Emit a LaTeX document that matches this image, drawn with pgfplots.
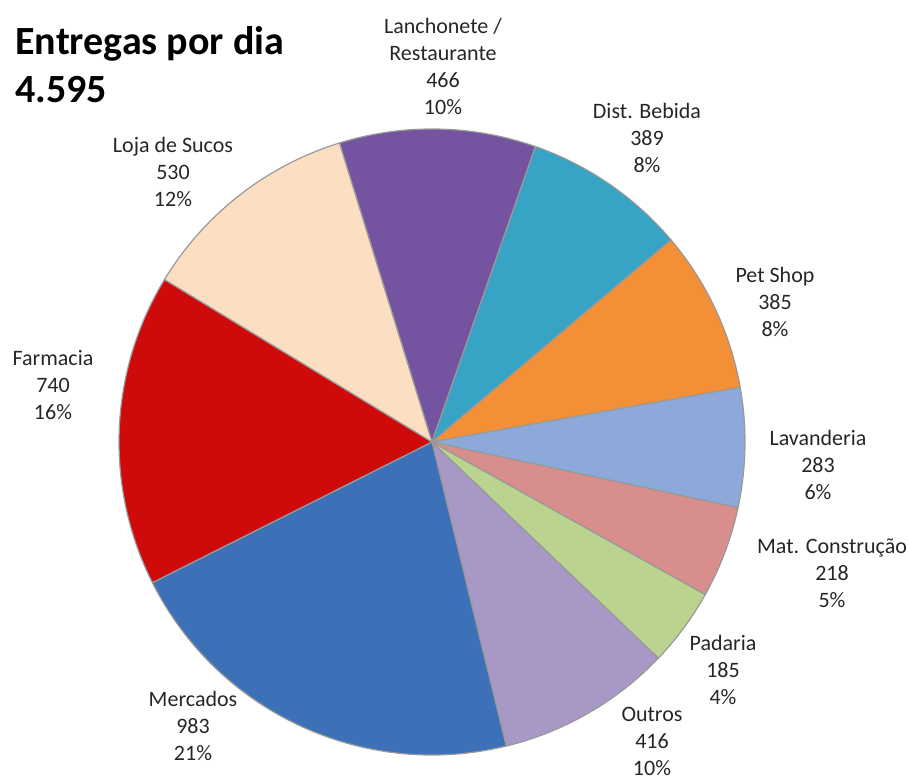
\documentclass[border=0pt]{standalone}
\usepackage{pgfplots}
\pgfplotsset{compat=1.18}
\usepackage{pgfplotstable}
\usepackage{fontspec}
\setmainfont{Carlito}
\definecolor{c0}{HTML}{7453A0}
\definecolor{c1}{HTML}{37A3C5}
\definecolor{c2}{HTML}{F38F36}
\definecolor{c3}{HTML}{8CA9D9}
\definecolor{c4}{HTML}{D88E8C}
\definecolor{c5}{HTML}{BAD48F}
\definecolor{c6}{HTML}{A898C6}
\definecolor{c7}{HTML}{3D71B7}
\definecolor{c8}{HTML}{CF0A0A}
\definecolor{c9}{HTML}{FCDFC2}
\definecolor{lbl}{HTML}{262626}
% values in clockwise order, starting at the top
\pgfplotstableread{
value
466
389
385
283
218
185
416
983
740
530
}\data
\begin{document}
\begin{tikzpicture}
\begin{axis}[x=0.5pt,y=0.5pt,xmin=0,xmax=909,ymin=0,ymax=781,
  scale only axis,hide axis,clip=false]
\path (axis cs:0,0) rectangle (axis cs:909,781);
\gdef\total{0}
\pgfplotsforeachungrouped \i in {0,...,9}{%
  \pgfplotstablegetelem{\i}{value}\of\data
  \pgfmathsetmacro\total{\total+\pgfplotsretval}%
}
\gdef\cum{0}
\pgfplotsforeachungrouped \i in {0,...,9}{%
  \pgfplotstablegetelem{\i}{value}\of\data
  \pgfmathsetmacro\a{107.2-\cum/\total*360}%
  \pgfmathsetmacro\b{\a-\pgfplotsretval/\total*360}%
  \pgfmathsetmacro\cum{\cum+\pgfplotsretval}%
  \edef\temp{\noexpand\fill[c\i, draw=black!40, line width=0.6pt, line join=round]
    (axis cs:432,339) -- ++(\a:156.5pt) arc[start angle=\a, end angle=\b, radius=156.5pt] -- cycle;}%
  \temp
}
\tikzset{lab/.style={align=center, inner sep=0pt, text=lbl, font={\fontsize{11}{13.5}\selectfont}}}
\node[lab] at (axis cs:443,715) {Lanchonete /\\Restaurante\\466\\10\%};
\node[lab] at (axis cs:647,643) {Dist. Bebida\\389\\8\%};
\node[lab] at (axis cs:775,479) {Pet Shop\\385\\8\%};
\node[lab] at (axis cs:818,316) {Lavanderia\\283\\6\%};
\node[lab] at (axis cs:832,208) {Mat. Construção\\218\\5\%};
\node[lab] at (axis cs:723,111) {Padaria\\185\\4\%};
\node[lab] at (axis cs:652,40) {Outros\\416\\10\%};
\node[lab] at (axis cs:193,55) {Mercados\\983\\21\%};
\node[lab] at (axis cs:53,396) {Farmacia\\740\\16\%};
\node[lab] at (axis cs:173,609) {Loja de Sucos\\530\\12\%};
\node[anchor=base west, inner sep=0pt, font={\bfseries\fontsize{20}{24}\selectfont}] at (axis cs:15,726) {Entregas por dia};
\node[anchor=base west, inner sep=0pt, font={\bfseries\fontsize{20}{24}\selectfont}] at (axis cs:15,678) {4.595};
\end{axis}
\end{tikzpicture}
\end{document}
